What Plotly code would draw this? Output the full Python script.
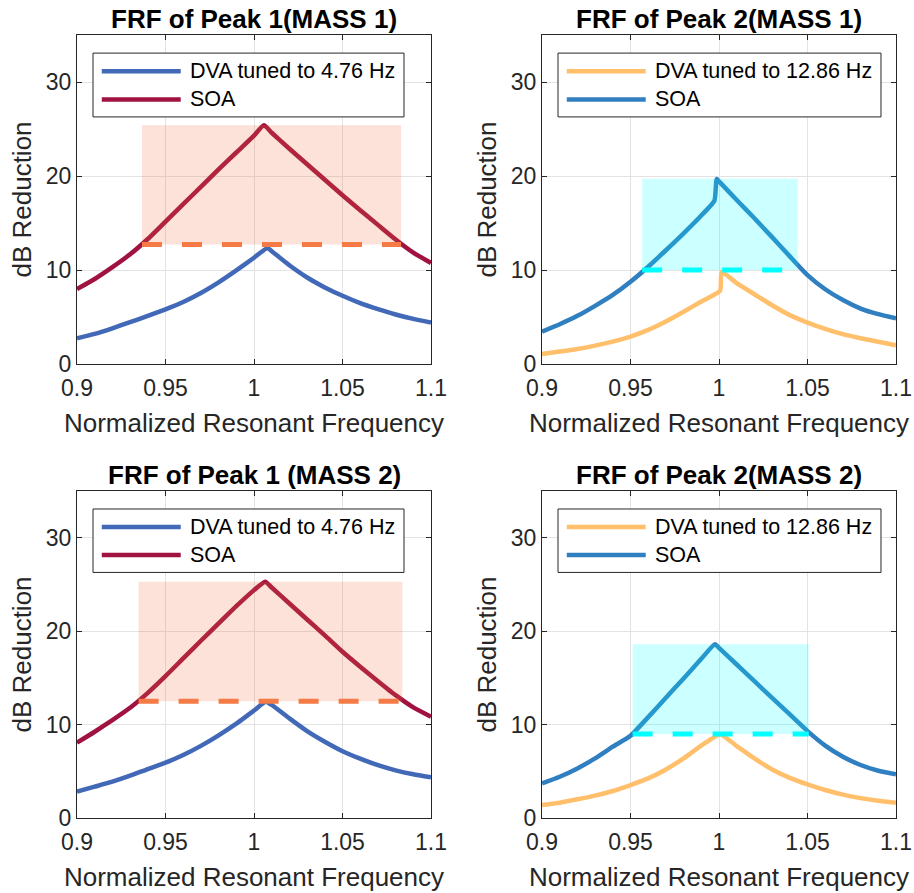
import plotly.graph_objects as go

W, H = 914, 893

# ---------------- data ----------------
xtick_vals = [0.9, 0.95, 1.0, 1.05, 1.1]
xtick_text = ["0.9", "0.95", "1", "1.05", "1.1"]
ytick_vals = [0, 10, 20, 30]

titles = ["FRF of Peak 1(MASS 1)", "FRF of Peak 2(MASS 1)",
          "FRF of Peak 1 (MASS 2)", "FRF of Peak 2(MASS 2)"]
dva_names = ["DVA tuned to 4.76 Hz", "DVA tuned to 12.86 Hz",
             "DVA tuned to 4.76 Hz", "DVA tuned to 12.86 Hz"]
soa_name = "SOA"
x_label = "Normalized Resonant Frequency"
y_label = "dB Reduction"

# Panel 1: Peak 1, Mass 1
p1_dva_x = [0.90, 0.91, 0.92, 0.93, 0.94, 0.95, 0.96, 0.97, 0.98, 0.99, 1.00, 1.0076,
            1.01, 1.02, 1.03, 1.04, 1.05, 1.06, 1.07, 1.08, 1.09, 1.10]
p1_dva_y = [2.74, 3.2, 3.8, 4.45, 5.12, 5.82, 6.6, 7.55, 8.68, 9.95, 11.3, 12.35,
            12.0, 10.5, 9.2, 8.15, 7.26, 6.48, 5.84, 5.27, 4.8, 4.41]
p1_soa_x = [0.90, 0.91, 0.92, 0.93, 0.94, 0.95, 0.96, 0.97, 0.98, 0.99, 1.00, 1.0056,
            1.01, 1.02, 1.03, 1.04, 1.05, 1.06, 1.07, 1.08, 1.09, 1.10]
p1_soa_y = [7.97, 9.04, 10.3, 11.67, 13.3, 15.15, 17.0, 18.85, 20.7, 22.5, 24.3, 25.4,
            24.6, 22.9, 21.25, 19.6, 17.95, 16.35, 14.8, 13.25, 11.85, 10.75]
p1_band_x = [0.9367, 1.0831]
p1_band_y = [12.7, 25.4]

# Panel 2: Peak 2, Mass 1
p2_dva_x = [0.90, 0.91, 0.92, 0.93, 0.94, 0.95, 0.96, 0.97, 0.98, 0.99, 1.0006, 1.0015,
            1.01, 1.02, 1.03, 1.04, 1.05, 1.06, 1.07, 1.08, 1.09, 1.10]
p2_dva_y = [1.07, 1.32, 1.6, 1.96, 2.38, 2.92, 3.63, 4.52, 5.55, 6.65, 7.79, 9.8,
            8.6, 7.42, 6.25, 5.2, 4.41, 3.74, 3.17, 2.74, 2.36, 1.98]
p2_soa_x = [0.90, 0.91, 0.92, 0.93, 0.94, 0.95, 0.96, 0.97, 0.98, 0.99, 0.9974, 0.9987,
            1.00, 1.01, 1.02, 1.03, 1.04, 1.05, 1.06, 1.07, 1.08, 1.09, 1.10]
p2_soa_y = [3.45, 4.23, 5.12, 6.19, 7.35, 8.75, 10.35, 12.1, 13.9, 15.8, 17.37, 19.68,
            19.43, 17.45, 15.5, 13.5, 11.45, 9.45, 7.95, 6.8, 5.9, 5.3, 4.85]
p2_band_x = [0.9566, 1.0445]
p2_band_y = [10.0, 19.7]

# Panel 3: Peak 1, Mass 2
p3_dva_x = [0.90, 0.91, 0.92, 0.93, 0.94, 0.95, 0.96, 0.97, 0.98, 0.99, 1.00, 1.0066,
            1.01, 1.02, 1.03, 1.04, 1.05, 1.06, 1.07, 1.08, 1.09, 1.10]
p3_dva_y = [2.82, 3.35, 3.89, 4.53, 5.24, 5.92, 6.74, 7.72, 8.85, 10.1, 11.5, 12.44,
            12.1, 10.66, 9.3, 8.16, 7.15, 6.35, 5.65, 5.1, 4.68, 4.35]
p3_soa_x = [0.90, 0.91, 0.92, 0.93, 0.94, 0.95, 0.96, 0.97, 0.98, 0.99, 1.00, 1.0063,
            1.01, 1.02, 1.03, 1.04, 1.05, 1.06, 1.07, 1.08, 1.09, 1.10]
p3_soa_y = [8.06, 9.23, 10.48, 11.8, 13.4, 15.19, 17.08, 18.97, 20.82, 22.67, 24.39, 25.3,
            24.67, 22.96, 21.25, 19.54, 17.79, 16.19, 14.65, 13.15, 11.84, 10.84]
p3_band_x = [0.9348, 1.0838]
p3_band_y = [12.5, 25.3]

# Panel 4: Peak 2, Mass 2
p4_dva_x = [0.90, 0.91, 0.92, 0.93, 0.94, 0.95, 0.96, 0.97, 0.98, 0.99, 1.0007,
            1.01, 1.02, 1.03, 1.04, 1.05, 1.06, 1.07, 1.08, 1.09, 1.10]
p4_dva_y = [1.39, 1.64, 2.0, 2.39, 2.89, 3.53, 4.24, 5.2, 6.38, 7.75, 8.95,
            7.7, 6.38, 5.2, 4.3, 3.6, 3.0, 2.5, 2.13, 1.85, 1.64]
p4_soa_x = [0.90, 0.91, 0.92, 0.93, 0.94, 0.95, 0.96, 0.97, 0.98, 0.99, 0.9977,
            1.00, 1.01, 1.02, 1.03, 1.04, 1.05, 1.06, 1.07, 1.08, 1.09, 1.10]
p4_soa_y = [3.71, 4.42, 5.31, 6.38, 7.63, 8.8, 10.8, 12.87, 14.94, 17.04, 18.6,
            18.2, 16.43, 14.64, 12.86, 11.08, 9.3, 7.75, 6.56, 5.67, 5.06, 4.67]
p4_band_x = [0.9512, 1.0507]
p4_band_y = [9.0, 18.6]

# ---------------- styles ----------------
c_dva1, c_soa1 = "#4169B8", "#A0123F"
c_dva2, c_soa2 = "#FFBF6B", "#2F7FC1"
band1_fill, band1_line = "rgba(240,110,60,0.2)", "#F47B46"
band2_fill, band2_line = "rgba(0,255,255,0.2)", "#00FFFF"
FONT = "Liberation Sans, Arial, Helvetica, sans-serif"
TXT = "#262626"

panels = [
    dict(dva=(p1_dva_x, p1_dva_y), soa=(p1_soa_x, p1_soa_y), bx=p1_band_x, by=p1_band_y,
         cd=c_dva1, cs=c_soa1, bf=band1_fill, bl=band1_line, px=(77, 431), py=(35, 364)),
    dict(dva=(p2_dva_x, p2_dva_y), soa=(p2_soa_x, p2_soa_y), bx=p2_band_x, by=p2_band_y,
         cd=c_dva2, cs=c_soa2, bf=band2_fill, bl=band2_line, px=(542, 896), py=(35, 364)),
    dict(dva=(p3_dva_x, p3_dva_y), soa=(p3_soa_x, p3_soa_y), bx=p3_band_x, by=p3_band_y,
         cd=c_dva1, cs=c_soa1, bf=band1_fill, bl=band1_line, px=(77, 431), py=(491, 818)),
    dict(dva=(p4_dva_x, p4_dva_y), soa=(p4_soa_x, p4_soa_y), bx=p4_band_x, by=p4_band_y,
         cd=c_dva2, cs=c_soa2, bf=band2_fill, bl=band2_line, px=(542, 896), py=(491, 818)),
]

fig = go.Figure()
shapes = []
annotations = []
layout = dict(width=W, height=H, margin=dict(l=0, r=0, t=0, b=0), autosize=False,
              paper_bgcolor="white", plot_bgcolor="white", showlegend=False,
              font=dict(family=FONT, color=TXT))

for i, p in enumerate(panels):
    n = "" if i == 0 else str(i + 1)
    xa, ya = "x" + n, "y" + n
    dom_x = [p["px"][0] / W, p["px"][1] / W]
    dom_y = [1 - p["py"][1] / H, 1 - p["py"][0] / H]
    axc = dict(showline=True, linecolor=TXT, linewidth=1, mirror="allticks",
               ticks="inside", ticklen=5, tickwidth=1, tickcolor=TXT,
               showgrid=True, gridcolor="#E3E3E3", gridwidth=1, zeroline=False,
               tickfont=dict(size=23, color=TXT, family=FONT), automargin=False)
    layout["xaxis" + n] = dict(axc, domain=dom_x, anchor=ya, range=[0.9, 1.1],
                               tickvals=xtick_vals, ticktext=xtick_text, ticklabelstandoff=3,
                               title=dict(text=x_label, font=dict(size=26, color=TXT, family=FONT), standoff=14))
    layout["yaxis" + n] = dict(axc, domain=dom_y, anchor=xa, range=[0, 35],
                               tickvals=ytick_vals,
                               title=dict(text=y_label, font=dict(size=26, color=TXT, family=FONT), standoff=6))

    fig.add_trace(go.Scatter(x=p["dva"][0], y=p["dva"][1], mode="lines", name=dva_names[i],
                             line=dict(color=p["cd"], width=4.5, shape="spline", smoothing=0.5),
                             xaxis=xa, yaxis=ya))
    fig.add_trace(go.Scatter(x=p["soa"][0], y=p["soa"][1], mode="lines", name=soa_name,
                             line=dict(color=p["cs"], width=4.5, shape="spline", smoothing=0.5),
                             xaxis=xa, yaxis=ya))

    # shaded band (drawn over the curves, semi-transparent)
    shapes.append(dict(type="rect", xref=xa, yref=ya, x0=p["bx"][0], x1=p["bx"][1],
                       y0=p["by"][0], y1=p["by"][1], fillcolor=p["bf"],
                       line=dict(width=0), layer="above"))
    shapes.append(dict(type="line", xref=xa, yref=ya, x0=p["bx"][0], x1=p["bx"][1],
                       y0=p["by"][0], y1=p["by"][0],
                       line=dict(color=p["bl"], width=5, dash="20px,20px"), layer="above"))

    # legend box
    xd, yd = xa + " domain", ya + " domain"
    lx1 = 0.9237 if i % 2 == 0 else 0.9576
    shapes.append(dict(type="rect", xref=xd, yref=yd, x0=0.0452, x1=lx1, y0=0.751, y1=0.945,
                       fillcolor="white", line=dict(color=TXT, width=1), layer="above"))
    for row, (nm, col) in enumerate([(dva_names[i], p["cd"]), (soa_name, p["cs"])]):
        yy = 0.89 if row == 0 else 0.804
        shapes.append(dict(type="line", xref=xd, yref=yd, x0=0.07, x1=0.293, y0=yy, y1=yy,
                           line=dict(color=col, width=4.5), layer="above"))
        annotations.append(dict(xref=xd, yref=yd, x=0.3136, y=yy, xanchor="left", yanchor="middle",
                                text=nm, showarrow=False,
                                font=dict(size=21.5, color="black", family=FONT)))

    # panel title
    annotations.append(dict(xref="paper", yref="paper", x=(dom_x[0] + dom_x[1]) / 2,
                            y=1 - (p["py"][0] - 16) / H, xanchor="center", yanchor="middle",
                            text="<b>" + titles[i] + "</b>", showarrow=False,
                            font=dict(size=26, color="black", family=FONT)))

layout["shapes"] = shapes
layout["annotations"] = annotations
fig.update_layout(**layout)
fig.write_html("out.html", config={"displayModeBar": False},
               post_script="document.body.style.margin='0px';document.body.style.overflow='hidden';")
